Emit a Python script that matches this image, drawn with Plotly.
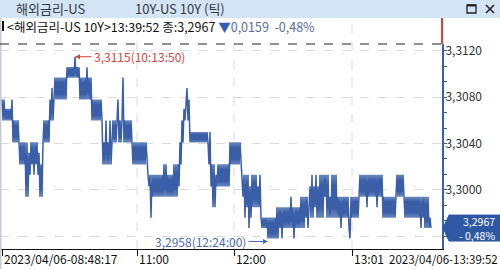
import plotly.graph_objects as go

# ---------------- data (tick prices) ----------------
price_morning = [
    3.3078, 3.3060, 3.3078,
    3.3060, 3.3070, 3.3060, 3.3070, 3.3060, 3.3070, 3.3060, 3.3078,
    3.3041, 3.3060, 3.3041, 3.3060, 3.3041, 3.3060, 3.3041,
    3.3022, 3.3041, 3.3022, 3.3041, 3.3022, 3.3041,
    3.2994, 3.3041, 3.2994, 3.3032,
    3.3013, 3.3041, 3.3022, 3.3041, 3.3013, 3.3041, 3.3022, 3.3041, 3.3013, 3.3032,
    3.2994, 3.3022, 3.2994, 3.3041,
    3.3060, 3.3041, 3.3060, 3.3041, 3.3060, 3.3041,
    3.3078, 3.3060, 3.3088, 3.3060, 3.3078,
    3.3097, 3.3078, 3.3097, 3.3078, 3.3097, 3.3078, 3.3097, 3.3078, 3.3097, 3.3078, 3.3097, 3.3078,
    3.3106, 3.3097, 3.3106, 3.3097, 3.3106, 3.3097, 3.3106, 3.3097, 3.3115, 3.3097, 3.3106, 3.3097, 3.3106,
    3.3078, 3.3097, 3.3078, 3.3097,
    3.3078, 3.3097, 3.3078, 3.3106, 3.3078, 3.3097, 3.3078, 3.3097,
    3.3060, 3.3078, 3.3060, 3.3078, 3.3060, 3.3078, 3.3060, 3.3078, 3.3060, 3.3078, 3.3060,
    3.3022, 3.3041, 3.3022, 3.3060, 3.3022, 3.3041, 3.3022, 3.3060, 3.3022,
    3.3041, 3.3060, 3.3041, 3.3060, 3.3041,
    3.3060, 3.3078, 3.3041, 3.3060, 3.3041,
    3.3060, 3.3097, 3.3041, 3.3060,
    3.3041, 3.3060, 3.3041, 3.3060, 3.3041, 3.3060, 3.3041,
]
price_late_morning = [
    3.3022, 3.3041, 3.3022, 3.3041, 3.3022, 3.3041, 3.3022, 3.3041, 3.3022, 3.3041, 3.3022, 3.3041, 3.3022, 3.3041, 3.3022,
    3.3013, 3.3003, 3.3013,
    3.2976, 3.3013, 3.2994, 3.3013, 3.2994, 3.3013, 3.2994, 3.3013, 3.2994, 3.3013, 3.2994, 3.3013,
    3.2994, 3.3022, 3.2994, 3.3022, 3.2994,
    3.3013, 3.2994, 3.3013, 3.2994, 3.3013,
    3.2994, 3.3022, 3.2994, 3.3022, 3.2994, 3.3022, 3.3003,
    3.3041, 3.3022, 3.3060, 3.3041, 3.3070,
    3.3060, 3.3078, 3.3088, 3.3060, 3.3078,
    3.3041, 3.3050, 3.3041, 3.3050, 3.3041, 3.3050, 3.3041, 3.3050, 3.3041, 3.3050,
    3.3041, 3.3050, 3.3041, 3.3050, 3.3041, 3.3050, 3.3041, 3.3050, 3.3041,
    3.3022, 3.3050, 3.3003, 3.3022,
    3.2985, 3.3022, 3.2985, 3.3013,
    3.3003, 3.3022, 3.3003, 3.3022, 3.3003, 3.3022, 3.3003, 3.3022, 3.3003, 3.3022, 3.3003, 3.3022, 3.3003,
    3.3041, 3.3022, 3.3041, 3.3022, 3.3041, 3.3022, 3.3041, 3.3022, 3.3041, 3.3022, 3.3041, 3.3022,
]
price_noon = [
    3.3003, 3.2994, 3.3013,
    3.2976, 3.3013, 3.2985, 3.3013, 3.2967, 3.3003, 3.2976, 3.3013, 3.2985, 3.3013,
    3.2985, 3.3013, 3.2985, 3.3003, 3.2985, 3.3013, 3.2976,
    3.2967, 3.2976, 3.2967, 3.2976, 3.2967, 3.2976, 3.2958, 3.2976, 3.2958, 3.2976, 3.2958, 3.2976, 3.2958, 3.2976, 3.2958,
    3.2985, 3.2958, 3.2985, 3.2967, 3.2985, 3.2958, 3.2985, 3.2967, 3.2985, 3.2967,
    3.2985, 3.2967, 3.2985, 3.2967, 3.2994, 3.2967, 3.2985, 3.2958, 3.2985, 3.2967, 3.2985, 3.2967, 3.2985, 3.2967, 3.2994, 3.2967,
    3.2994, 3.2967, 3.2994, 3.2976, 3.2994, 3.2967, 3.2994,
    3.3003, 3.2976, 3.3013, 3.2976, 3.3003, 3.2985, 3.3013, 3.2976, 3.3003, 3.2976,
    3.3013, 3.2976, 3.3013, 3.2976, 3.3013, 3.2994, 3.3013, 3.2976, 3.3013, 3.2976, 3.2994, 3.2976, 3.3013, 3.2976, 3.3013, 3.2976, 3.3013, 3.2976,
    3.2994, 3.2976, 3.2994, 3.2967, 3.2994, 3.2976, 3.2994,
    3.2976, 3.2994, 3.2976, 3.2994, 3.2967, 3.2958, 3.2994,
    3.2976, 3.2994, 3.2976, 3.2994, 3.2976, 3.2994, 3.2976, 3.2994,
]
price_afternoon = [
    3.3013, 3.2994, 3.3013, 3.2994, 3.3013, 3.2994, 3.3013, 3.2985, 3.3013, 3.2994, 3.3013, 3.2994,
    3.3013, 3.2994, 3.3013, 3.2994, 3.3013, 3.2985, 3.3013, 3.2994, 3.3013, 3.2994, 3.3013,
    3.2976, 3.2994, 3.2976, 3.2994, 3.2976, 3.2994, 3.2976, 3.2994, 3.2976, 3.2994, 3.2976, 3.2994, 3.2976, 3.2994,
    3.3013, 3.2994, 3.3013, 3.2994, 3.3013, 3.2994, 3.3013, 3.2994,
    3.2976, 3.2994, 3.2976, 3.2994, 3.2976, 3.2994, 3.2976, 3.2994, 3.2976, 3.2994, 3.2976, 3.2994, 3.2976, 3.2994, 3.2976,
    3.2994, 3.2967, 3.2994, 3.2976, 3.2994, 3.2967, 3.2994, 3.2967, 3.2994, 3.2967, 3.2976, 3.2967,
]

time_labels = ["2023/04/06-08:48:17", "11:00", "12:00", "13:01"]
time_tick_index = [0, 135, 232, 350]
grid_tick_index = [135, 232, 350]
end_time_label = "2023/04/06-13:39:52"
max_label = "3,3115(10:13:50)"
min_label = "3,2958(12:24:00)"
y_tickvals = [3.2960, 3.3000, 3.3040, 3.3080, 3.3120]
y_ticktext = ["", "3,3000", "3,3040", "3,3080", "3,3120"]
last_price_text = "3,2967"
last_change_pct = "- 0,48%"
header_title = "해외금리-US"
header_sub = "10Y-US 10Y (틱)"
info_text = "&lt;해외금리-US 10Y&gt;13:39:52 종:3,2967"
info_change = "0,0159\u00a0\u00a0-0,48%"

prices = price_morning + price_late_morning + price_noon + price_afternoon
idx = list(range(len(prices)))
i_max = max(idx, key=lambda i: prices[i])
i_min = min(idx, key=lambda i: prices[i])
last_i, last_p = idx[-1], prices[-1]

# ---------------- style ----------------
FONT = "Noto Sans CJK KR"
BLUE = "#3a5fa8"
RED = "#d8433b"
W, H = 500, 269
L, R, T, B = 0, 58, 44, 20
PW, PH = W - L - R, H - T - B


def px(x):
    return (x - L) / PW


def py(y):
    return (H - B - y) / PH


fig = go.Figure()
fig.add_trace(go.Scatter(x=idx, y=prices, mode="lines",
                         line=dict(color=BLUE, width=1.5), hoverinfo="skip"))

shapes = []
# title bar
shapes.append(dict(type="rect", xref="paper", yref="paper", x0=px(0), x1=px(W), y0=py(18), y1=py(0),
                   fillcolor="#d3e4f4", line=dict(width=0), layer="below"))
# window icons
shapes.append(dict(type="rect", xref="paper", yref="paper", x0=px(467), x1=px(476), y0=py(13), y1=py(5),
                   line=dict(color="#222", width=1.3)))
shapes.append(dict(type="line", xref="paper", yref="paper", x0=px(467), x1=px(476), y0=py(5.5), y1=py(5.5),
                   line=dict(color="#222", width=2)))
shapes.append(dict(type="line", xref="paper", yref="paper", x0=px(486), x1=px(494), y0=py(5), y1=py(13),
                   line=dict(color="#222", width=1.6)))
shapes.append(dict(type="line", xref="paper", yref="paper", x0=px(486), x1=px(494), y0=py(13), y1=py(5),
                   line=dict(color="#222", width=1.6)))
# info marker bar
shapes.append(dict(type="rect", xref="paper", yref="paper", x0=px(2), x1=px(4), y0=py(31), y1=py(21),
                   fillcolor="#111", line=dict(width=0)))
# left window border
shapes.append(dict(type="line", xref="paper", yref="paper", x0=px(0.5), x1=px(0.5), y0=py(H), y1=py(18),
                   line=dict(color="#c5ccd6", width=2)))
# vertical dashed grid lines
for gi in grid_tick_index:
    shapes.append(dict(type="line", xref="x", yref="paper", x0=gi, x1=gi, y0=0, y1=py(18),
                       line=dict(color="#d9d9d9", width=1, dash="dash"), layer="below"))
# top dashed line
shapes.append(dict(type="line", xref="paper", yref="paper", x0=0, x1=1, y0=1, y1=1,
                   line=dict(color="#222", width=1, dash="dash")))
# red part of right axis
shapes.append(dict(type="line", xref="paper", yref="paper", x0=px(442), x1=px(442), y0=1, y1=py(18),
                   line=dict(color=RED, width=2)))
# last price tag
shapes.append(dict(type="path", xref="paper", yref="y", xsizemode="pixel", ysizemode="pixel",
                   xanchor=1, yanchor=last_p,
                   path="M 1,0 L 7,13 L 58,13 L 58,-13 L 7,-13 Z",
                   fillcolor="#2f58a4", line=dict(color="#2f58a4", width=1)))

ann = []
ann.append(dict(xref="paper", yref="paper", x=px(14), y=py(8.5), xanchor="left", yanchor="middle",
                text=header_title, showarrow=False, font=dict(family=FONT, size=13, color="#333a44")))
ann.append(dict(xref="paper", yref="paper", x=px(133), y=py(8.5), xanchor="left", yanchor="middle",
                text=header_sub, showarrow=False, font=dict(family=FONT, size=13, color="#333a44")))
ann.append(dict(xref="paper", yref="paper", x=px(5), y=py(27), xanchor="left", yanchor="middle",
                text=info_text + ' <span style="color:#2f5fb0">▼</span><span style="color:#5a6f9c">' + info_change + '</span>',
                showarrow=False, font=dict(family=FONT, size=12.5, color="#111")))
# max / min markers
ann.append(dict(x=i_max, y=prices[i_max], text="", showarrow=True, ax=18, ay=0, arrowhead=2,
                arrowsize=1, arrowwidth=1, arrowcolor=RED, standoff=0))
ann.append(dict(x=i_max, y=prices[i_max], text=max_label, showarrow=False, xanchor="left", xshift=17,
                yanchor="middle", font=dict(family=FONT, size=12, color=RED)))
ann.append(dict(x=i_min, y=prices[i_min], text="", showarrow=True, ax=-21, ay=0, arrowhead=2,
                arrowsize=1, arrowwidth=1, arrowcolor="#4a6bb0", standoff=0, yshift=-3))
ann.append(dict(x=i_min, y=prices[i_min], text=min_label, showarrow=False, xanchor="right", xshift=-20,
                yshift=-3, yanchor="middle", font=dict(family=FONT, size=12, color="#4a6bb0")))
# last price tag text
ann.append(dict(xref="paper", yref="y", x=px(497), y=last_p, xanchor="right", yanchor="middle",
                text=last_price_text + "<br>" + last_change_pct, align="right", showarrow=False,
                font=dict(family=FONT, size=10.5, color="white")))
# x labels
for ti, tl in zip(time_tick_index, time_labels):
    ann.append(dict(x=ti, xref="x", yref="paper", y=py(258.5), xanchor="left", yanchor="middle", xshift=0,
                    text=tl, showarrow=False, font=dict(family=FONT, size=12, color="#111")))
ann.append(dict(xref="paper", yref="paper", x=px(500), y=py(258.5), xanchor="right", yanchor="middle",
                text=end_time_label, showarrow=False, font=dict(family=FONT, size=11.5, color="#111")))

fig.update_layout(
    width=W, height=H, margin=dict(l=L, r=R, t=T, b=B, pad=0),
    paper_bgcolor="white", plot_bgcolor="white", showlegend=False,
    shapes=shapes, annotations=ann,
    xaxis=dict(range=[-2, PW - 2], showgrid=False, zeroline=False, showline=True, linecolor="#111",
               linewidth=1, ticks="outside", ticklen=6, tickcolor="#111", tickvals=time_tick_index,
               showticklabels=False, fixedrange=True),
    yaxis=dict(range=[3.29489, 3.31260], side="right", showgrid=True, gridcolor="#dcdcdc", griddash="dash",
               gridwidth=1, zeroline=False, showline=True, linecolor=BLUE, linewidth=2, ticks="outside",
               ticklen=3, tickcolor=BLUE, tickvals=y_tickvals, ticktext=y_ticktext, ticklabelstandoff=-4,
               tickfont=dict(family=FONT, size=12, color="#333"),
               minor=dict(ticks="outside", ticklen=3, tickcolor=BLUE, dtick=0.004 / 3, tick0=3.3, showgrid=False)),
)

fig.write_html("out.html")
